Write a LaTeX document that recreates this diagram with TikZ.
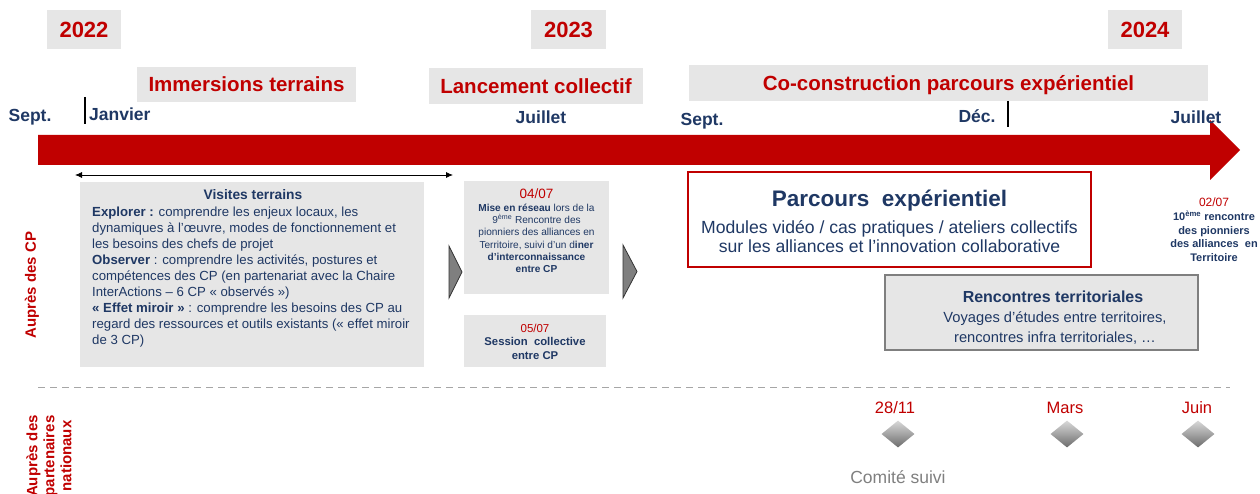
\documentclass[tikz,border=0pt]{standalone}
\usepackage{fontspec}
\setmainfont{Liberation Sans}
\usetikzlibrary{arrows.meta,shapes.geometric}
\definecolor{myred}{HTML}{C00000}
\definecolor{navy}{HTML}{1F3864}
\definecolor{boxgray}{HTML}{E6E6E6}
\definecolor{midgray}{HTML}{7F7F7F}
\newcommand{\fsz}[2]{\fontsize{#1}{#2}\selectfont}
\begin{document}
\begin{tikzpicture}[x=1pt,y=-1pt,
  graybox/.style={rectangle, fill=boxgray, draw=none, inner sep=0pt},
  yearbox/.style={graybox, minimum width=74pt, minimum height=39pt, text=myred, font=\bfseries\fsz{22}{26}, text height=15.8pt, text depth=0pt},
  phasebox/.style={graybox, minimum height=36pt, text=myred, font=\bfseries\fsz{20.5}{24}, text height=14.7pt, text depth=0pt},
  month/.style={text=navy, font=\bfseries\fsz{17.5}{20}, inner sep=0pt, anchor=base},
  tickline/.style={draw=black, line width=1.2pt},
  navytext/.style={text=navy, inner sep=0pt},
  redtext/.style={text=myred, inner sep=0pt},
  chevron/.style={fill=midgray, draw=black!80, line width=0.8pt},
  diam/.style={diamond, inner sep=0pt, minimum width=33pt, minimum height=27pt, draw=none, top color=gray!30, bottom color=gray!85!black},
]
\useasboundingbox (0,0) rectangle (1260,494);

% years
\node[yearbox] (y22) at (84,29.5) {2022};
\node[yearbox, minimum width=75pt] (y23) at (568.5,29.5) {2023};
\node[yearbox] (y24) at (1145,29.5) {2024};

% phases
\node[phasebox, minimum width=219pt, minimum height=35pt] (ph1) at (246.5,84.5) {Immersions terrains};
\node[phasebox, minimum width=214pt] (ph2) at (536,86) {Lancement collectif};
\node[phasebox, minimum width=519pt] (ph3) at (948.5,83) {Co-construction parcours expérientiel};

% main arrow
\fill[myred] (38,135) -- (1210,135) -- (1210,120) -- (1240,150) -- (1210,180) -- (1210,165) -- (38,165) -- cycle;

% months
\node[month] (m1) at (30,122) {Sept.};
\node[month, anchor=base west] (m2) at (89,121) {Janvier};
\node[month] (m3) at (541,124) {Juillet};
\node[month] (m4) at (702,126) {Sept.};
\node[month] (m5) at (977,123) {Déc.};
\node[month] (m6) at (1196,124) {Juillet};
\coordinate (t1a) at (85,97);
\coordinate (t1b) at (85,124);
\draw[tickline] (t1a) -- (t1b);
\coordinate (t2a) at (1008,101);
\coordinate (t2b) at (1008,127);
\draw[tickline] (t2a) -- (t2b);

% double arrow
\coordinate (da1) at (75,175);
\coordinate (da2) at (453,175);
\draw[{Latex[length=7pt,width=6pt]}-{Latex[length=7pt,width=6pt]}, line width=0.8pt] (da1) -- (da2);

% visites terrains
\node[graybox, minimum width=344pt, minimum height=185pt] (vis) at (252,274.5) {};
\node[navytext, font=\bfseries\fsz{13.8}{16}, anchor=base] (vist) at (253,200) {Visites terrains};
\node[navytext, font=\fsz{13.2}{16}, anchor=north west, align=left] (visb) at (92,206.5) {%
\textbf{Explorer :} comprendre les enjeux locaux, les\\
dynamiques à l’œuvre, modes de fonctionnement et\\
les besoins des chefs de projet\\
\textbf{Observer} : comprendre les activités, postures et\\
compétences des CP (en partenariat avec la Chaire\\
InterActions – 6 CP « observés »)\\
\textbf{« Effet miroir »} : comprendre les besoins des CP au\\
regard des ressources et outils existants (« effet miroir\\
de 3 CP)};

% chevrons
\filldraw[chevron] (449,246) -- (462,272) -- (449,298) -- cycle;
\filldraw[chevron] (623,245) -- (637,271.5) -- (623,298) -- cycle;

% 04/07
\node[graybox, minimum width=145pt, minimum height=113pt] (b0407) at (536.5,237.5) {};
\node[redtext, font=\fsz{13.5}{16}, anchor=base] (t0407) at (536.5,199) {04/07};
\node[navytext, font=\fsz{10.1}{12.3}, anchor=north, align=center] (x0407) at (536.5,203.5) {%
\textbf{Mise en réseau} lors de la\\
9\textsuperscript{ème} Rencontre des\\
pionniers des alliances en\\
Territoire, suivi d’un d\textbf{iner}\\
\textbf{d’interconnaissance}\\
\textbf{entre CP}};

% 05/07
\node[graybox, minimum width=142pt, minimum height=52pt] (b0507) at (535,341) {};
\node[redtext, font=\fsz{11.5}{14}, anchor=base] (t0507) at (535,332) {05/07};
\node[navytext, font=\bfseries\fsz{11.3}{14}, anchor=north, align=center] (x0507) at (535,337) {Session\ \ collective\\entre CP};

% parcours
\node[rectangle, fill=white, draw=myred, line width=1.8pt, minimum width=403pt, minimum height=95pt] (parc) at (889.5,219.5) {};
\node[navytext, font=\bfseries\fsz{22.5}{26}, anchor=base] (parct) at (889.5,207) {Parcours\ \ expérientiel};
\node[navytext, font=\fsz{17.6}{19}, anchor=north, align=center] (parcb) at (889.5,220) {Modules vidéo / cas pratiques / ateliers collectifs\\sur les alliances et l’innovation collaborative};

% 02/07
\node[redtext, font=\fsz{12}{14}, anchor=base] (t0207) at (1214,207) {02/07};
\node[navytext, font=\bfseries\fsz{11}{13.5}, anchor=north, align=center] (x0207) at (1214,211) {10\textsuperscript{ème} rencontre\\des pionniers\\des alliances\ \ en\\Territoire};

% rencontres territoriales
\node[rectangle, fill=boxgray, draw=midgray, line width=1.5pt, minimum width=313pt, minimum height=75pt] (renc) at (1041.5,312.5) {};
\node[navytext, font=\bfseries\fsz{16}{18}, anchor=base] (renct) at (1053,302) {Rencontres territoriales};
\node[navytext, font=\fsz{14.7}{20}, anchor=north, align=center] (rencb) at (1055,311.5) {Voyages d’études entre territoires,\\rencontres infra territoriales, …};

% dashed separator
\coordinate (dl1) at (38,387);
\coordinate (dl2) at (1230,387);
\draw[gray!70, line width=1pt, dash pattern=on 7pt off 5pt] (dl1) -- (dl2);

% side labels
\node[redtext, rotate=90, font=\bfseries\fsz{15}{17}] (lab1) at (32,285) {Auprès des CP};
\node[redtext, rotate=90, font=\bfseries\fsz{15}{17}, align=center] (lab2) at (49,456) {Auprès des\\partenaires\\nationaux};

% milestones
\node[diam] (d1) at (898,434) {};
\node[diam] (d2) at (1067,434) {};
\node[diam] (d3) at (1198,434) {};
\node[redtext, font=\fsz{16.5}{18}, anchor=base] (l1) at (895,413) {28/11};
\node[redtext, font=\fsz{16.5}{18}, anchor=base] (l2) at (1065,413) {Mars};
\node[redtext, font=\fsz{16.5}{18}, anchor=base] (l3) at (1197,413) {Juin};
\node[text=midgray, inner sep=0pt, font=\fsz{17.5}{20}, anchor=base] (cs) at (898,483) {Comité suivi};
\end{tikzpicture}
\end{document}
